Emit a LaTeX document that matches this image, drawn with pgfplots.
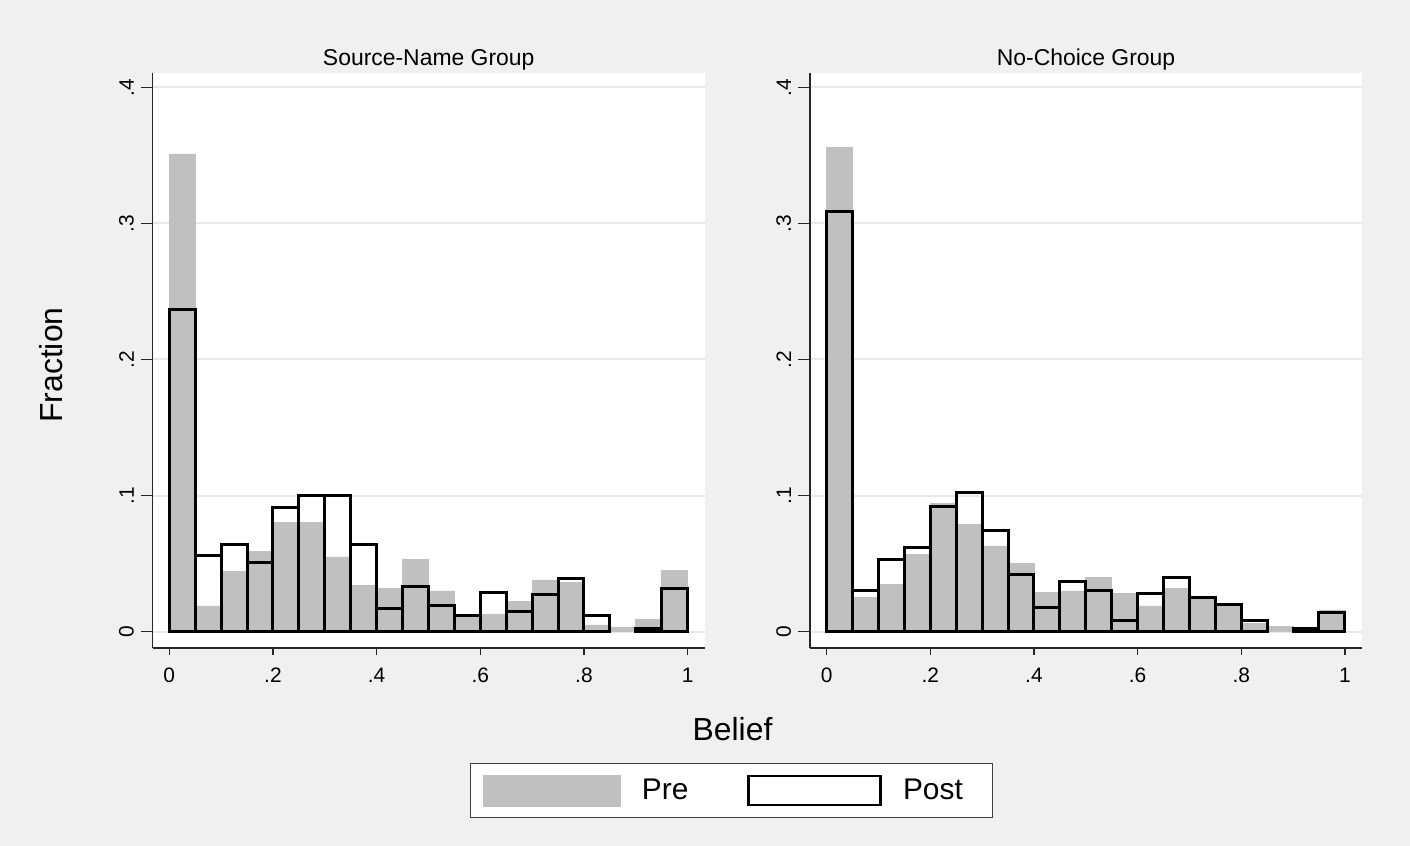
\documentclass[border=0pt]{standalone}
\usepackage{pgfplots}
\pgfplotsset{compat=1.18}
\usepackage{pgfplotstable}
\usepackage{fontspec}
\setmainfont{Liberation Sans}
\definecolor{bg}{RGB}{240,240,240}
\definecolor{pregray}{RGB}{192,192,192}
\definecolor{gridc}{RGB}{232,232,232}

\pgfplotstableread{
x pre post
0.025 0.351 0.237
0.075 0.019 0.056
0.125 0.044 0.064
0.175 0.059 0.051
0.225 0.080 0.091
0.275 0.080 0.100
0.325 0.055 0.100
0.375 0.034 0.064
0.425 0.032 0.017
0.475 0.053 0.033
0.525 0.030 0.019
0.575 0.012 0.012
0.625 0.013 0.029
0.675 0.022 0.015
0.725 0.038 0.027
0.775 0.036 0.039
0.825 0.005 0.012
0.875 0.003 nan
0.925 0.009 0.002
0.975 0.045 0.032
}\leftdata

\pgfplotstableread{
x pre post
0.025 0.356 0.309
0.075 0.025 0.030
0.125 0.035 0.053
0.175 0.057 0.062
0.225 0.094 0.092
0.275 0.079 0.102
0.325 0.063 0.074
0.375 0.050 0.042
0.425 0.029 0.018
0.475 0.030 0.037
0.525 0.040 0.030
0.575 0.028 0.008
0.625 0.019 0.028
0.675 0.032 0.040
0.725 0.025 0.025
0.775 0.020 0.020
0.825 0.006 0.008
0.875 0.004 nan
0.925 0.002 0.002
0.975 0.016 0.014
}\rightdata

\pgfplotsset{
  stataaxis/.style={
    width=276bp, height=287.5bp, scale only axis,
    xmin=-0.032, xmax=1.033, ymin=-0.012, ymax=0.4105,
    axis lines*=left,
    axis line style={line width=0.6bp, black!85},
    axis background/.style={fill=white},
    xtick={0,0.2,0.4,0.6,0.8,1}, xticklabels={0,.2,.4,.6,.8,1},
    ytick={0,0.1,0.2,0.3,0.4}, yticklabels={0,.1,.2,.3,.4},
    tick align=outside,
    x tick style={/pgfplots/major tick length=3.5bp, line width=0.6bp, black!85},
    y tick style={/pgfplots/major tick length=5.8bp, line width=0.6bp, black!85},
    minor tick num=0,
    ymajorgrids, grid style={gridc, line width=1bp},
    tick label style={font=\fontsize{10.5}{12}\selectfont, black},
    yticklabel style={rotate=90, anchor=south, inner sep=5bp},
    xticklabel style={inner sep=5.5bp},
    unbounded coords=discard,
    title style={font=\fontsize{11.5}{14}\selectfont, at={(0.5,1)}, anchor=base, yshift=-2bp},
  },
  prebar/.style={ybar, bar width=0.05, bar shift=0pt, fill=pregray, draw=pregray, line width=0.3bp},
  postbar/.style={ybar, bar width=0.05, bar shift=0pt, fill=none, draw=black, line width=1.5bp},
}

\begin{document}
\begin{tikzpicture}
\useasboundingbox (0,0) rectangle (705bp,423bp);
\fill[bg] (0,0) rectangle (705bp,423bp);

\begin{axis}[stataaxis,
  at={(76.35bp,99bp)}, anchor=south west,
  title={Source-Name Group},
  ylabel={Fraction},
  ylabel style={at={(axis description cs:-0.1643,0.492)}, rotate=0, anchor=base, font=\fontsize{16}{19}\selectfont},
  xlabel={Belief},
  xlabel style={at={(axis description cs:1.0504,-0.16)}, anchor=base, font=\fontsize{16}{19}\selectfont},
  legend style={
    at={(0.5743,-0.2957)}, anchor=south west,
    draw=black!75, line width=0.6bp, fill=white,
    legend columns=2,
    font=\fontsize{15}{18}\selectfont,
    inner xsep=6.5bp, inner ysep=5.5bp,
    nodes={inner xsep=4bp, inner ysep=0bp},
    /tikz/every odd column/.append style={column sep=6.5bp},
    /tikz/every even column/.append style={column sep=25.5bp},
  },
  legend cell align=left,
]
\addplot[prebar, legend image code/.code={\fill[pregray] (0bp,-7.75bp) rectangle (68.5bp,7.75bp);}] table[x=x, y=pre] {\leftdata};
\addlegendentry{Pre}
\addplot[postbar, legend image code/.code={\draw[black, line width=1.3bp] (0bp,-7.25bp) rectangle (66bp,7.25bp);}] table[x=x, y=post] {\leftdata};
\addlegendentry{Post\hspace*{4.5bp}}
\end{axis}

\begin{axis}[stataaxis,
  at={(405bp,99bp)}, anchor=south west,
  title={No-Choice Group},
]
\addplot[prebar] table[x=x, y=pre] {\rightdata};
\addplot[postbar] table[x=x, y=post] {\rightdata};
\end{axis}
\end{tikzpicture}
\end{document}
